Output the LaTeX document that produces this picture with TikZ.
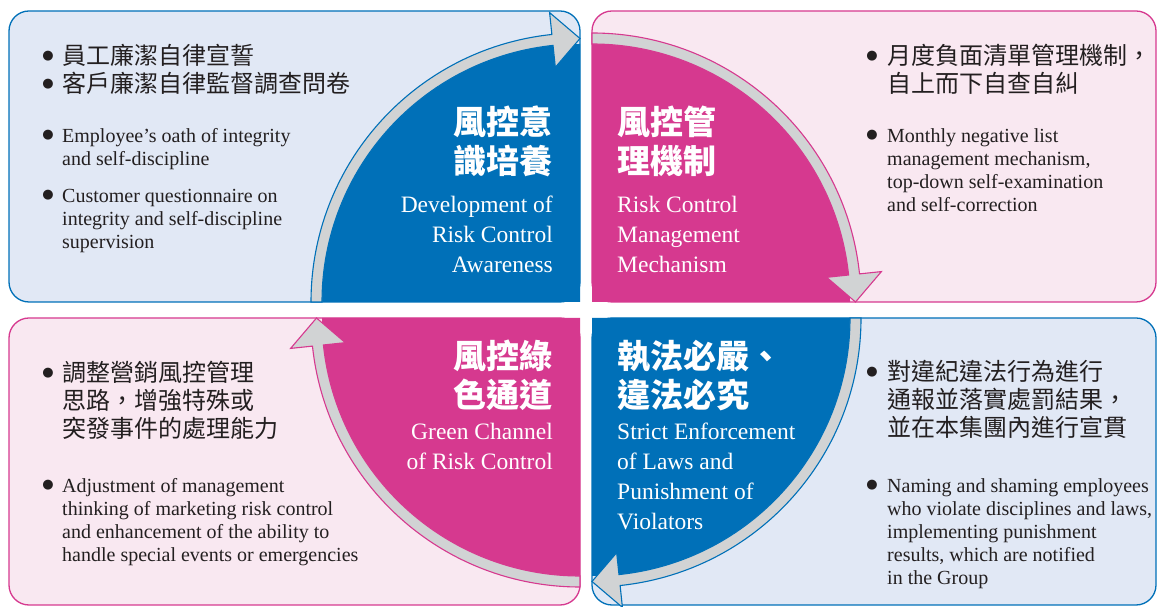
\documentclass[tikz,border=0pt]{standalone}
\usepackage{fontspec}
\setmainfont{Liberation Serif}
\newfontfamily\cjk{Noto Sans CJK TC}
\newfontfamily\dotfont{DejaVu Sans}
\definecolor{riskblue}{HTML}{0070B8}
\definecolor{riskpink}{HTML}{D6398F}
\definecolor{paleblue}{HTML}{E1E8F5}
\definecolor{palepink}{HTML}{F9E8F1}
\definecolor{bandgray}{HTML}{D1D3D4}
\definecolor{ink}{HTML}{231F20}

\begin{document}
\begin{tikzpicture}[x=1pt,y=1pt,
  panelblue/.style={draw=riskblue, fill=paleblue, line width=1.3pt, rounded corners=20pt},
  panelpink/.style={draw=riskpink, fill=palepink, line width=1.3pt, rounded corners=20pt},
  band/.style={fill=bandgray, line width=1.1pt, line join=miter},
  head/.style={text=white, inner sep=0pt, font=\cjk\bfseries\fontsize{33}{39}\selectfont},
  sub/.style={text=white, inner sep=0pt, font=\fontsize{23.5}{30}\selectfont},
  body/.style={text=ink, inner sep=0pt, align=left, anchor=base west, font=\fontsize{20}{23}\selectfont},
  cjkbody/.style={text=ink, inner sep=0pt, align=left, anchor=base west, font=\cjk\fontsize{24}{28}\selectfont},
  dot/.style={text=ink, inner sep=0pt, anchor=base, font=\dotfont\fontsize{13}{13}\selectfont}]

\useasboundingbox (0,0) rectangle (1158,607);

% four panels
\draw[panelblue] (9,305) rectangle (580,596);
\draw[panelpink] (592,305) rectangle (1156,596);
\draw[panelpink] (9,2) rectangle (580,289);
\draw[panelblue] (592,2) rectangle (1156,289);

% quarter discs and the gray arrows round them
\begin{scope}[shift={(580,305)}]
\fill[riskblue] (0,0) -- (180:258) arc[start angle=180, end angle=90, radius=258] -- cycle;
\filldraw[band, draw=riskblue] (180:258) arc[start angle=180, end angle=96, radius=258] -- (96:236) -- (90:263.5) -- (96:291) -- (96:269) arc[start angle=96, end angle=180, radius=269] -- cycle;
\end{scope}

\begin{scope}[shift={(592,305)}]
\fill[riskpink] (0,0) -- (90:258) arc[start angle=90, end angle=0, radius=258] -- cycle;
\filldraw[band, draw=riskpink] (90:258) arc[start angle=90, end angle=6, radius=258] -- (6:236) -- (0:263.5) -- (6:291) -- (6:269) arc[start angle=6, end angle=90, radius=269] -- cycle;
\end{scope}

\begin{scope}[shift={(592,289)}]
\fill[riskblue] (0,0) -- (0:258) arc[start angle=0, end angle=-90, radius=258] -- cycle;
\filldraw[band, draw=riskblue] (0:258) arc[start angle=0, end angle=-84, radius=258] -- (-84:236) -- (-90:263.5) -- (-84:291) -- (-84:269) arc[start angle=-84, end angle=0, radius=269] -- cycle;
\end{scope}

\begin{scope}[shift={(580,289)}]
\fill[riskpink] (0,0) -- (-90:258) arc[start angle=-90, end angle=-180, radius=258] -- cycle;
\filldraw[band, draw=riskpink] (-90:258) arc[start angle=-90, end angle=-174, radius=258] -- (-174:236) -- (-180:263.5) -- (-174:291) -- (-174:269) arc[start angle=-174, end angle=-90, radius=269] -- cycle;
\end{scope}

% titles in the discs (anchored on their last line)
\node[head, align=right, anchor=base east] (tlhead) at (553,433) {風控意\\識培養};
\node[sub, align=right, anchor=base east] (tlsub) at (553,334) {Development of\\Risk Control\\Awareness};
\node[head, align=left, anchor=base west] (trhead) at (617,433) {風控管\\理機制};
\node[sub, align=left, anchor=base west] (trsub) at (617,334) {Risk Control\\Management\\Mechanism};
\node[head, align=right, anchor=base east] (blhead) at (553,199) {風控綠\\色通道};
\node[sub, align=right, anchor=base east] (blsub) at (553,137) {Green Channel\\of Risk Control};
\node[head, align=left, anchor=base west] (brhead) at (617,199) {執法必嚴、\\違法必究};
\node[sub, align=left, anchor=base west] (brsub) at (617,77) {Strict Enforcement\\of Laws and\\Punishment of\\Violators};

% top left text
\node[dot] (tldot1) at (48,547) {●};
\node[dot] (tldot2) at (48,519) {●};
\node[cjkbody] (tlcn) at (62,514) {員工廉潔自律宣誓\\客戶廉潔自律監督調查問卷};
\node[dot] (tldot3) at (48,468.5) {●};
\node[body] (tlen1) at (62,441) {Employee’s oath of integrity\\and self-discipline};
\node[dot] (tldot4) at (48,408.5) {●};
\node[body] (tlen2) at (62,358) {Customer questionnaire on\\integrity and self-discipline\\supervision};

% top right text
\node[dot] (trdot1) at (872,547) {●};
\node[cjkbody] (trcn) at (887,514) {月度負面清單管理機制，\\自上而下自查自糾};
\node[dot] (trdot2) at (872,468.5) {●};
\node[body] (tren) at (887,395) {Monthly negative list\\management mechanism,\\top-down self-examination\\and self-correction};

% bottom left text
\node[dot] (bldot1) at (48,230) {●};
\node[cjkbody] (blcn) at (62,169) {調整營銷風控管理\\思路，增強特殊或\\突發事件的處理能力};
\node[dot] (bldot2) at (48,118.5) {●};
\node[body] (blen) at (62,45) {Adjustment of management\\thinking of marketing risk control\\and enhancement of the ability to\\handle special events or emergencies};

% bottom right text
\node[dot] (brdot1) at (872,231) {●};
\node[cjkbody] (brcn) at (887,170) {對違紀違法行為進行\\通報並落實處罰結果，\\並在本集團內進行宣貫};
\node[dot] (brdot2) at (872,118.5) {●};
\node[body] (bren) at (887,22) {Naming and shaming employees\\who violate disciplines and laws,\\implementing punishment\\results, which are notified\\in the Group};

\end{tikzpicture}
\end{document}
